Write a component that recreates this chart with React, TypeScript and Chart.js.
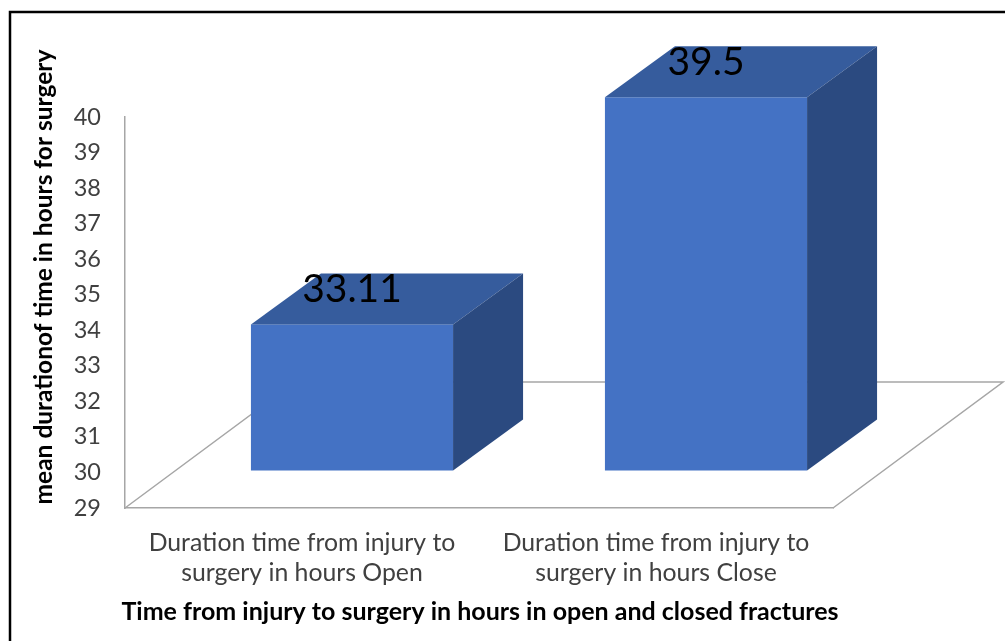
import React, { useEffect, useRef } from "react";
import { Chart, registerables } from "chart.js";

Chart.register(...registerables);

const categories: string[][] = [
  ["Duration time from injury to", "surgery in hours Open"],
  ["Duration time from injury to", "surgery in hours Close"],
];
const values: number[] = [33.11, 39.5];
const valueLabels: string[] = ["33.11", "39.5"];
const yMin = 29;
const yMax = 40;
const yTitle = "mean durationof time in hours for surgery";
const xTitle = "Time from injury to surgery in hours in open and closed fractures";

const FONT = "Lato, 'Open Sans', sans-serif";
const FRONT = "#4472C4";
const TOP = "#365C9D";
const SIDE = "#2B4A80";
const GRID = "#A6A6A6";

// 3D projection constants
const FLOOR_DX = 170;
const FLOOR_DY = -126;
const BAR_FRONT_DX = 50;
const BAR_FRONT_DY = -37.5;
const BAR_DEPTH_DX = 70;
const BAR_DEPTH_DY = -51;

const threeD = {
  id: "threeD",
  beforeDatasetsDraw(chart: any) {
    const { ctx, chartArea } = chart;
    const { left, right, bottom } = chartArea;
    ctx.save();
    ctx.strokeStyle = GRID;
    ctx.lineWidth = 1.5;
    ctx.beginPath();
    ctx.moveTo(left, bottom);
    ctx.lineTo(left + FLOOR_DX, bottom + FLOOR_DY);
    ctx.lineTo(right + FLOOR_DX, bottom + FLOOR_DY);
    ctx.lineTo(right, bottom);
    ctx.stroke();
    ctx.restore();
  },
  afterDatasetsDraw(chart: any) {
    const { ctx } = chart;
    const meta = chart.getDatasetMeta(0);
    const yScale = chart.scales.y;
    ctx.save();
    meta.data.forEach((el: any, i: number) => {
      const { x, width } = el.getProps(["x", "width"], true);
      const y = yScale.getPixelForValue(values[i]);
      const base = yScale.getPixelForValue(yMin);
      const x0 = x - width / 2 + BAR_FRONT_DX;
      const x1 = x + width / 2 + BAR_FRONT_DX;
      const yt = y + BAR_FRONT_DY;
      const yb = base + BAR_FRONT_DY;
      // front
      ctx.fillStyle = FRONT;
      ctx.fillRect(x0, yt, x1 - x0, yb - yt);
      // top
      ctx.fillStyle = TOP;
      ctx.beginPath();
      ctx.moveTo(x0, yt);
      ctx.lineTo(x0 + BAR_DEPTH_DX, yt + BAR_DEPTH_DY);
      ctx.lineTo(x1 + BAR_DEPTH_DX, yt + BAR_DEPTH_DY);
      ctx.lineTo(x1, yt);
      ctx.closePath();
      ctx.fill();
      // side
      ctx.fillStyle = SIDE;
      ctx.beginPath();
      ctx.moveTo(x1, yt);
      ctx.lineTo(x1 + BAR_DEPTH_DX, yt + BAR_DEPTH_DY);
      ctx.lineTo(x1 + BAR_DEPTH_DX, yb + BAR_DEPTH_DY);
      ctx.lineTo(x1, yb);
      ctx.closePath();
      ctx.fill();
      // label
      ctx.fillStyle = "#000000";
      ctx.font = `39px ${FONT}`;
      ctx.textAlign = "center";
      ctx.textBaseline = "middle";
      ctx.fillText(valueLabels[i], (x0 + x1) / 2, yt - 35);
    });
    ctx.restore();
  },
  afterDraw(chart: any) {
    const { ctx } = chart;
    ctx.save();
    ctx.fillStyle = "#000000";
    ctx.font = `bold 24.5px ${FONT}`;
    ctx.textAlign = "center";
    ctx.textBaseline = "middle";
    ctx.translate(44, 277);
    ctx.rotate(-Math.PI / 2);
    ctx.fillText(yTitle, 0, 0);
    ctx.restore();
    ctx.save();
    ctx.fillStyle = "#000000";
    ctx.font = `bold 25px ${FONT}`;
    ctx.textAlign = "center";
    ctx.textBaseline = "middle";
    ctx.fillText(xTitle, 480, 612);
    // frame
    ctx.strokeStyle = "#000000";
    ctx.lineWidth = 2.5;
    ctx.beginPath();
    ctx.moveTo(10, 641);
    ctx.lineTo(10, 12);
    ctx.lineTo(1005, 12);
    ctx.stroke();
    ctx.restore();
  },
};

export default function App() {
  const ref = useRef<HTMLCanvasElement | null>(null);
  useEffect(() => {
    if (!ref.current) return;
    const chart = new Chart(ref.current, {
      type: "bar",
      data: {
        labels: categories,
        datasets: [
          {
            data: values,
            base: yMin,
            backgroundColor: "rgba(0,0,0,0)",
            borderWidth: 0,
            barPercentage: 0.571,
            categoryPercentage: 1,
          },
        ],
      },
      options: {
        responsive: false,
        animation: false,
        devicePixelRatio: 1,
        layout: { padding: { left: 0, right: 172, top: 117, bottom: 0 } },
        plugins: { legend: { display: false }, tooltip: { enabled: false } },
        scales: {
          x: {
            grid: { display: false, drawTicks: false },
            border: { display: true, color: GRID, width: 1.5 },
            ticks: {
              color: "#404040",
              font: { family: FONT, size: 24.8, lineHeight: "30px" },
              padding: 20,
              maxRotation: 0,
              autoSkip: false,
            },
            afterFit(scale: any) {
              scale.height = 133;
            },
          },
          y: {
            min: yMin,
            max: yMax,
            grid: { display: false, drawTicks: false },
            border: { display: true, color: GRID, width: 1.5 },
            ticks: {
              stepSize: 1,
              color: "#404040",
              font: { family: FONT, size: 23.5 },
              padding: 24,
            },
            afterFit(scale: any) {
              scale.width = 125;
            },
          },
        },
      },
      plugins: [threeD],
    });
    return () => chart.destroy();
  }, []);
  return (
    <div style={{ position: "absolute", left: 0, top: 0, width: 1005, height: 641, background: "#fff" }}>
      <canvas ref={ref} width={1005} height={641} style={{ display: "block", width: 1005, height: 641 }} />
    </div>
  );
}
